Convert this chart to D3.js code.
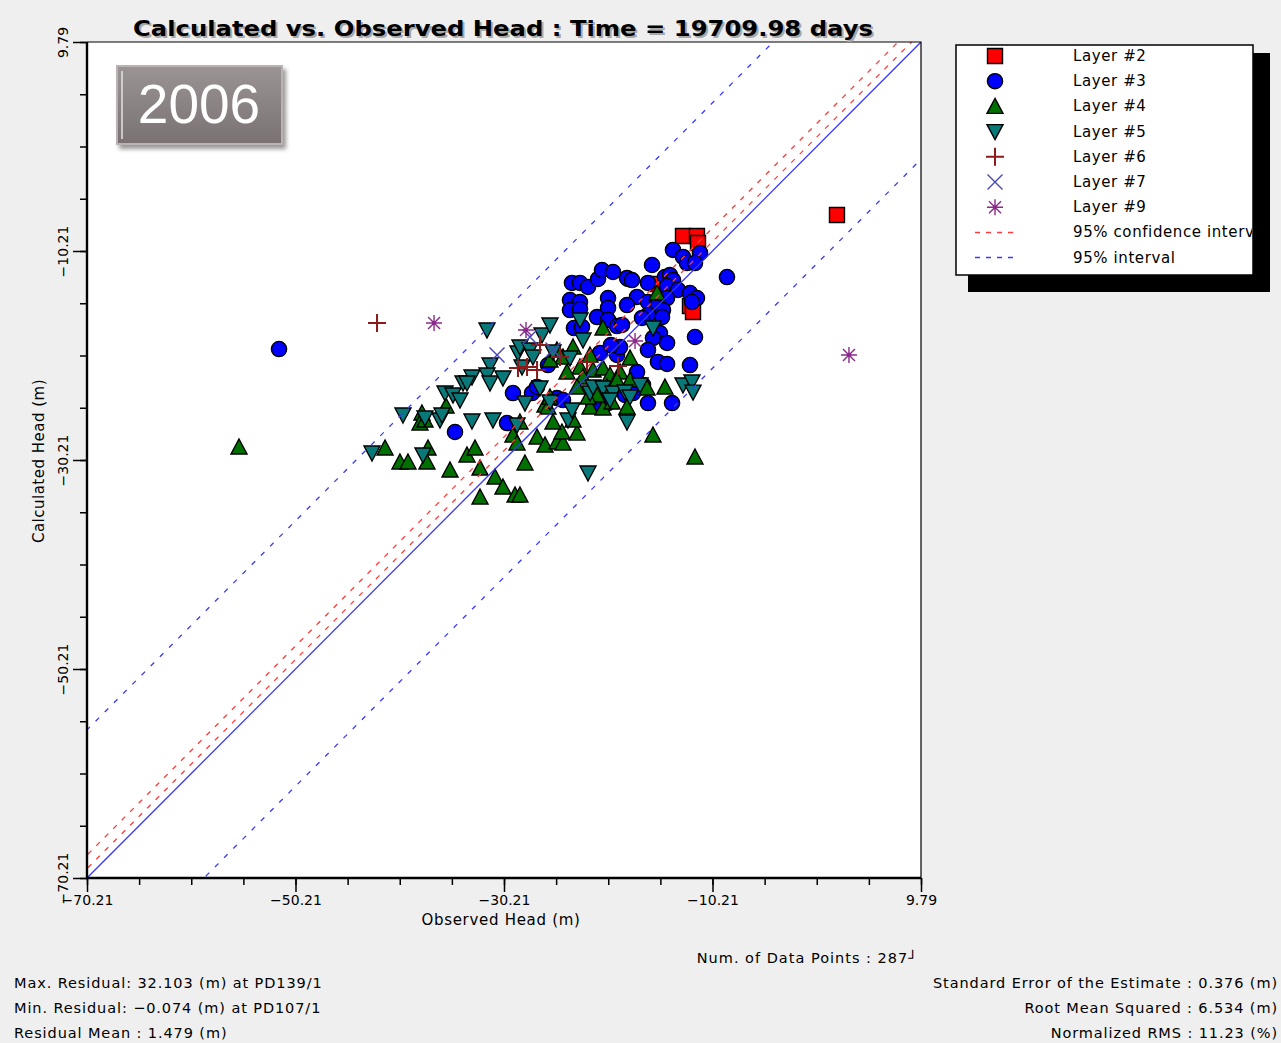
<!DOCTYPE html>
<html>
<head>
<meta charset="utf-8">
<script src="https://cdn.jsdelivr.net/npm/d3@7"></script>
<style>
  body { margin: 0; background: #efefef; }
  svg { display: block; font-family: "DejaVu Sans", sans-serif; }
</style>
</head>
<body>
<svg id="chart" width="1281" height="1043"></svg>
<script>
// Observed vs calculated head, [observed, calculated] in metres
const layer2 = [
  [-13.04, -8.77], [-11.70, -8.77], [-11.60, -9.44], [-15.44, -13.37],
  [-12.37, -15.47], [-12.08, -16.05], [1.73, -6.77]
];

const layer3 = [
  [-51.79, -19.59], [-34.91, -27.53], [-29.92, -26.67], [-29.35, -23.80], [-27.52, -23.80],
  [-27.04, -23.22], [-25.99, -21.12], [-25.13, -24.28], [-24.55, -24.47], [-23.69, -13.27],
  [-22.92, -13.27], [-22.15, -13.65], [-21.19, -12.89], [-20.81, -12.03], [-19.75, -12.22],
  [-18.32, -12.89], [-23.88, -14.90], [-22.92, -15.09], [-23.88, -15.86], [-22.92, -15.76],
  [-20.23, -14.71], [-20.23, -15.66], [-21.29, -16.53], [-20.23, -16.81], [-19.37, -17.39],
  [-23.50, -17.58], [-22.73, -17.48], [-21.00, -19.97], [-19.37, -20.16], [-19.08, -19.40],
  [-21.67, -24.76], [-20.23, -24.76], [-18.41, -12.79], [-17.93, -12.99], [-16.40, -13.27],
  [-16.01, -11.55], [-14.77, -12.70], [-14.29, -12.51], [-14.00, -12.99], [-14.57, -13.56],
  [-13.52, -13.94], [-12.37, -14.23], [-11.70, -14.71], [-12.18, -15.09], [-14.00, -10.11],
  [-13.04, -10.78], [-12.66, -11.36], [-11.41, -10.40], [-11.89, -11.36], [-17.45, -14.61],
  [-16.40, -15.09], [-18.41, -15.38], [-15.44, -15.19], [-14.57, -14.71], [-14.96, -15.86],
  [-15.05, -16.53], [-16.40, -16.33], [-18.89, -17.29], [-16.97, -16.62], [-15.25, -18.06],
  [-15.92, -18.54], [-14.57, -19.01], [-16.40, -19.68], [-11.89, -18.44], [-8.82, -12.70],
  [-12.37, -21.12], [-15.44, -20.83], [-14.57, -21.02], [-17.45, -21.79], [-16.88, -23.03],
  [-17.84, -23.80], [-16.40, -24.76], [-14.09, -24.76], [-19.95, -19.21], [-18.60, -23.99]
];

const layer4 = [
  [-55.63, -28.97], [-41.62, -29.06], [-40.19, -30.40], [-39.42, -30.40], [-37.60, -30.40],
  [-37.50, -29.06], [-38.08, -25.71], [-38.27, -26.67], [-35.77, -25.04], [-35.39, -31.17],
  [-33.76, -29.73], [-32.99, -29.06], [-32.51, -30.98], [-31.07, -31.84], [-30.31, -32.79],
  [-32.51, -33.75], [-29.15, -33.56], [-28.68, -33.56], [-28.20, -30.50], [-29.35, -27.82],
  [-28.96, -28.58], [-28.68, -26.57], [-27.04, -28.01], [-26.28, -28.77], [-25.13, -28.49],
  [-24.55, -28.58], [-24.65, -27.53], [-23.21, -27.63], [-23.59, -26.38], [-26.28, -24.95],
  [-25.80, -24.18], [-25.51, -26.57], [-21.96, -25.14], [-20.71, -25.23], [-19.85, -24.66],
  [-18.41, -25.14], [-15.92, -27.82], [-14.77, -23.22], [-16.49, -23.32], [-11.89, -29.92],
  [-20.71, -17.58], [-23.59, -19.40], [-21.96, -20.16], [-22.92, -21.31], [-21.67, -21.60],
  [-20.71, -21.41], [-20.04, -22.08], [-19.08, -21.79], [-18.12, -22.55], [-18.12, -20.45],
  [-19.37, -22.55], [-22.63, -22.27], [-24.17, -21.79], [-24.55, -20.35], [-25.80, -20.64],
  [-25.13, -19.68], [-20.33, -23.22], [-21.29, -23.99], [-22.15, -24.18], [-15.53, -14.23],
  [-23.21, -23.22], [-25.99, -25.14], [-37.79, -26.38]
];

const layer5 = [
  [-42.87, -29.54], [-39.90, -25.90], [-37.98, -29.73], [-37.79, -26.19], [-36.35, -26.38],
  [-35.87, -23.80], [-35.10, -23.99], [-34.43, -24.47], [-34.14, -22.84], [-33.28, -22.27],
  [-33.28, -26.48], [-31.84, -17.77], [-31.55, -21.12], [-31.84, -22.08], [-31.55, -22.84],
  [-30.31, -22.36], [-33.76, -22.84], [-31.27, -26.38], [-28.96, -26.86], [-28.20, -24.76],
  [-28.87, -19.97], [-28.68, -19.40], [-27.72, -19.68], [-28.48, -21.31], [-27.43, -20.35],
  [-26.56, -18.25], [-25.80, -17.29], [-25.51, -19.88], [-26.76, -23.32], [-25.80, -24.66],
  [-24.07, -26.38], [-23.69, -25.43], [-22.92, -16.81], [-22.63, -18.73], [-23.88, -20.45],
  [-21.96, -23.80], [-21.67, -23.22], [-20.71, -23.32], [-19.75, -23.80], [-20.04, -24.47],
  [-18.60, -23.70], [-18.12, -24.18], [-17.16, -23.03], [-18.41, -26.57], [-15.92, -17.58],
  [-13.04, -23.03], [-12.18, -22.75], [-12.08, -23.71], [-22.15, -31.45], [-36.16, -25.90]
];

const layer6 = [
  [-42.39, -17.10], [-26.76, -19.21], [-28.00, -21.31], [-27.04, -21.60],
  [-24.84, -20.35], [-22.25, -20.83], [-19.27, -21.21], [-28.87, -21.41]
];

const layer7 = [[-30.88, -20.16], [-27.72, -18.44], [-25.51, -19.68]];

const layer9 = [[-36.92, -17.10], [-28.10, -17.77], [-17.64, -18.82], [2.88, -20.16]];

// Lines: offsets (calculated - observed) of the interval lines
const confOffsets = [0.9, 2.2];
const intervalOffsets = [14.18, -11.22];

// Axis ticks
const headMin = -70.21;
const headMax = 9.79;
const majorTicks = [-70.21, -50.21, -30.21, -10.21, 9.79];
const minorTicks = d3.range(0, 17).map(i => -70.21 + i * 5);

// Texts
const titleText = 'Calculated vs. Observed Head : Time = 19709.98 days';
const yearText = '2006';
const statsLeft = [
  'Max. Residual: 32.103 (m) at PD139/1',
  'Min. Residual: \u22120.074 (m) at PD107/1',
  'Residual Mean : 1.479 (m)'
];
const statsRight = [
  'Standard Error of the Estimate : 0.376 (m)',
  'Root Mean Squared : 6.534 (m)',
  'Normalized RMS : 11.23 (%)'
];
const numPointsText = 'Num. of Data Points : 287\u2518';

// Layer styles
const layers = [
  { name: 'Layer #2', data: layer2, shape: 'square', fill: '#ff0000' },
  { name: 'Layer #3', data: layer3, shape: 'circle', fill: '#0000ff' },
  { name: 'Layer #4', data: layer4, shape: 'triUp', fill: '#007000' },
  { name: 'Layer #5', data: layer5, shape: 'triDown', fill: '#087878' },
  { name: 'Layer #6', data: layer6, shape: 'plus', stroke: '#8b1a1a' },
  { name: 'Layer #7', data: layer7, shape: 'cross', stroke: '#4646b4' },
  { name: 'Layer #9', data: layer9, shape: 'star', stroke: '#8b2a8b' }
];

const shapePaths = {
  square: 'M-7.5,-7.5H7.5V7.5H-7.5Z',
  circle: 'M7.6,0A7.6,7.6 0 1,1 -7.6,0A7.6,7.6 0 1,1 7.6,0Z',
  triUp: 'M0,-8L8,7L-8,7Z',
  triDown: 'M0,8L8,-7L-8,-7Z',
  plus: 'M-9,0H9M0,-9V9',
  cross: 'M-7.5,-7.5L7.5,7.5M-7.5,7.5L7.5,-7.5',
  star: 'M-8,0H8M0,-8V8M-6,-6L6,6M-6,6L6,-6'
};

// plot box
const plot = { left: 87, right: 921, top: 42, bottom: 878 };

const svg = d3.select('#chart');

const xScale = d3.scaleLinear().domain([headMin, headMax]).range([plot.left, plot.right]);
const yScale = d3.scaleLinear().domain([headMin, headMax]).range([plot.bottom, plot.top]);

// background
svg.append('rect')
  .attr('width', 1281).attr('height', 1043)
  .attr('fill', '#efefef');

svg.append('rect')
  .attr('x', plot.left).attr('y', plot.top)
  .attr('width', plot.right - plot.left).attr('height', plot.bottom - plot.top)
  .attr('fill', '#fff');

const defs = svg.append('defs');
defs.append('clipPath').attr('id', 'plotClip')
  .append('rect')
  .attr('x', plot.left).attr('y', plot.top)
  .attr('width', plot.right - plot.left).attr('height', plot.bottom - plot.top);

defs.append('clipPath').attr('id', 'legendClip')
  .append('rect')
  .attr('x', 956).attr('y', 45).attr('width', 296).attr('height', 229);

const grad = defs.append('linearGradient').attr('id', 'yearGrad')
  .attr('x1', 0).attr('y1', 0).attr('x2', 0).attr('y2', 1);
grad.append('stop').attr('offset', '0%').attr('stop-color', '#9b9494');
grad.append('stop').attr('offset', '100%').attr('stop-color', '#7a7272');

defs.append('filter').attr('id', 'soft')
  .append('feGaussianBlur').attr('stdDeviation', 2);

// Markers
function drawMarkers(g, layer, xs, ys) {
  const filled = !layer.stroke;
  g.selectAll('path.m-' + layer.shape)
    .data(layer.data)
    .enter()
    .append('path')
    .attr('class', 'm-' + layer.shape)
    .attr('transform', d => `translate(${xs(d[0])},${ys(d[1])})`)
    .attr('d', shapePaths[layer.shape])
    .attr('fill', filled ? layer.fill : 'none')
    .attr('stroke', filled ? '#000' : layer.stroke)
    .attr('stroke-width', filled ? 1.4 : (layer.shape === 'plus' ? 2 : 1.4));

  if (layer.shape === 'star') {
    g.selectAll('circle.star-dot')
      .data(layer.data)
      .enter()
      .append('circle')
      .attr('class', 'star-dot')
      .attr('cx', d => xs(d[0]))
      .attr('cy', d => ys(d[1]))
      .attr('r', 2.2)
      .attr('fill', layer.stroke);
  }
}

const markG = svg.append('g').attr('clip-path', 'url(#plotClip)');
layers.forEach(layer => drawMarkers(markG.append('g'), layer, xScale, yScale));

// 1:1 line and intervals, drawn over the points
const lineG = svg.append('g').attr('clip-path', 'url(#plotClip)');
const span = [headMin - 30, headMax + 30];

function diagLine(offset, color, dash, width) {
  lineG.append('line')
    .attr('x1', xScale(span[0])).attr('y1', yScale(span[0] + offset))
    .attr('x2', xScale(span[1])).attr('y2', yScale(span[1] + offset))
    .attr('stroke', color)
    .attr('stroke-width', width)
    .attr('stroke-dasharray', dash);
}

diagLine(0, '#3535ff', null, 1.3);
confOffsets.forEach(o => diagLine(o, '#ff3b3b', '5,7', 1.3));
intervalOffsets.forEach(o => diagLine(o, '#3a3aff', '5,8', 1.3));

// frame: thin top/right, thick left/bottom
svg.append('path')
  .attr('d', `M${plot.left},${plot.top}H${plot.right}V${plot.bottom}`)
  .attr('fill', 'none').attr('stroke', '#000').attr('stroke-width', 1.2);

// Axes
const xMinor = svg.append('g')
  .attr('transform', `translate(0,${plot.bottom})`)
  .call(d3.axisBottom(xScale).tickValues(minorTicks).tickSize(7).tickFormat(''));
const xMajor = svg.append('g')
  .attr('transform', `translate(0,${plot.bottom})`)
  .call(d3.axisBottom(xScale).tickValues(majorTicks).tickSize(14).tickPadding(3)
    .tickFormat(d3.format('.2f')));

const yMinor = svg.append('g')
  .attr('transform', `translate(${plot.left},0)`)
  .call(d3.axisLeft(yScale).tickValues(minorTicks).tickSize(7).tickFormat(''));
const yMajor = svg.append('g')
  .attr('transform', `translate(${plot.left},0)`)
  .call(d3.axisLeft(yScale).tickValues(majorTicks).tickSize(14)
    .tickFormat(d3.format('.2f')));

[xMinor, xMajor, yMinor, yMajor].forEach(g => {
  g.select('.domain').remove();
  g.selectAll('.tick line').attr('stroke-width', 1.5);
  g.selectAll('text').attr('font-family', '"DejaVu Sans", sans-serif')
    .attr('font-size', 14).attr('fill', '#000');
});

// y labels read bottom to top
yMajor.selectAll('.tick text')
  .attr('transform', 'rotate(-90)')
  .attr('x', 0).attr('y', -19).attr('dy', 0)
  .attr('text-anchor', 'middle');

svg.append('path')
  .attr('d', `M${plot.left},${plot.top}V${plot.bottom}H${plot.right}`)
  .attr('fill', 'none').attr('stroke', '#000').attr('stroke-width', 2.4);

// Axis titles
svg.append('text')
  .attr('x', 501).attr('y', 925)
  .attr('text-anchor', 'middle')
  .attr('font-size', 15)
  .attr('letter-spacing', 0.7)
  .text('Observed Head (m)');

svg.append('text')
  .attr('transform', 'translate(44,461) rotate(-90)')
  .attr('text-anchor', 'middle')
  .attr('font-size', 15)
  .attr('letter-spacing', 0.5)
  .text('Calculated Head (m)');

// Title with its grey shadow
svg.append('text')
  .attr('x', 135).attr('y', 38)
  .attr('font-size', 22).attr('font-weight', 'bold')
  .attr('fill', '#a8a8a8')
  .attr('textLength', 740).attr('lengthAdjust', 'spacingAndGlyphs')
  .text(titleText);
svg.append('text')
  .attr('x', 133).attr('y', 36)
  .attr('font-size', 22).attr('font-weight', 'bold')
  .attr('fill', '#000')
  .attr('textLength', 740).attr('lengthAdjust', 'spacingAndGlyphs')
  .text(titleText);

// Year badge
svg.append('rect')
  .attr('x', 119).attr('y', 69).attr('width', 167).attr('height', 80)
  .attr('fill', '#9a9696').attr('filter', 'url(#soft)');
svg.append('rect')
  .attr('x', 117).attr('y', 66).attr('width', 165).attr('height', 78)
  .attr('fill', 'url(#yearGrad)')
  .attr('stroke', '#b9b3b3').attr('stroke-width', 2);
svg.append('line')
  .attr('x1', 122).attr('y1', 71).attr('x2', 122).attr('y2', 139)
  .attr('stroke', '#e6e2e2').attr('stroke-width', 1.5);
svg.append('text')
  .attr('x', 199).attr('y', 123)
  .attr('text-anchor', 'middle')
  .attr('font-family', '"Liberation Sans", Arial, sans-serif')
  .attr('font-size', 55)
  .attr('fill', '#fff')
  .text(yearText);

// Legend
svg.append('rect')
  .attr('x', 968).attr('y', 53).attr('width', 302).attr('height', 239)
  .attr('fill', '#000');
svg.append('rect')
  .attr('x', 956).attr('y', 45).attr('width', 297).attr('height', 230)
  .attr('fill', '#fff').attr('stroke', '#000').attr('stroke-width', 1.5);

const legendItems = layers.map(l => ({ name: l.name, layer: l }))
  .concat([
    { name: '95% confidence interval', line: '#ff3b3b' },
    { name: '95% interval', line: '#3a3aff' }
  ]);

const legendG = svg.append('g').attr('clip-path', 'url(#legendClip)');
const rowY = i => 56 + i * 25.2;

legendItems.forEach((item, i) => {
  const row = legendG.append('g');
  if (item.layer) {
    const yPos = rowY(i);
    drawMarkers(row, Object.assign({}, item.layer, { data: [[0, 0]] }),
      () => 995, () => yPos);
  } else {
    row.append('line')
      .attr('x1', 975).attr('x2', 1014)
      .attr('y1', rowY(i)).attr('y2', rowY(i))
      .attr('stroke', item.line).attr('stroke-width', 1.5)
      .attr('stroke-dasharray', '5,6');
  }
  row.append('text')
    .attr('x', 1073).attr('y', rowY(i) + 5)
    .attr('font-size', 15)
    .attr('letter-spacing', 0.6)
    .text(item.name);
});

// Stats
svg.append('text')
  .attr('x', 918).attr('y', 963)
  .attr('text-anchor', 'end')
  .attr('font-size', 14.5)
  .attr('letter-spacing', 1)
  .text(numPointsText);

svg.selectAll('text.stat-left')
  .data(statsLeft)
  .enter()
  .append('text')
  .attr('class', 'stat-left')
  .attr('x', 14).attr('y', (d, i) => 988 + i * 25)
  .attr('font-size', 14.5)
  .attr('letter-spacing', 0.9)
  .text(d => d);

svg.selectAll('text.stat-right')
  .data(statsRight)
  .enter()
  .append('text')
  .attr('class', 'stat-right')
  .attr('x', 1278).attr('y', (d, i) => 988 + i * 25)
  .attr('text-anchor', 'end')
  .attr('font-size', 14.5)
  .attr('letter-spacing', 0.9)
  .text(d => d);
</script>
</body>
</html>
